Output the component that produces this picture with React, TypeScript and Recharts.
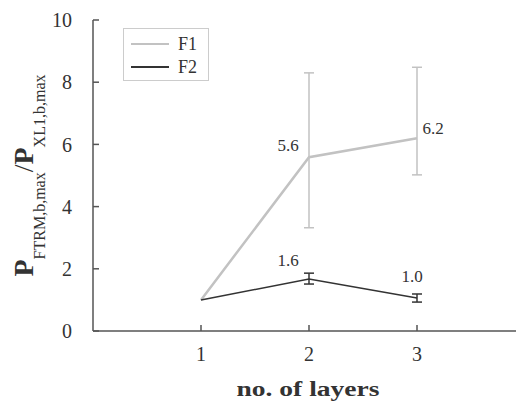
import React from 'react';
import { LineChart, Line, XAxis, YAxis, ErrorBar, LabelList, Legend } from 'recharts';

// number of layers
const layers = [1, 2, 3];

// F1 series: mean, error below, error above, printed label
const f1Mean = [1, 5.59, 6.2];
const f1ErrLow = [null, 2.27, 1.18];
const f1ErrHigh = [null, 2.71, 2.28];
const f1Labels = ['', '5.6', '6.2'];

// F2 series
const f2Mean = [1, 1.67, 1.06];
const f2ErrLow = [null, 0.16, 0.13];
const f2ErrHigh = [null, 0.19, 0.13];
const f2Labels = ['', '1.6', '1.0'];

const yTicks = [0, 2, 4, 6, 8, 10];

const data = layers.map((x, i) => ({
    x,
    f1: f1Mean[i],
    f1Err: f1ErrLow[i] == null ? undefined : [f1ErrLow[i], f1ErrHigh[i]],
    f1Label: f1Labels[i],
    f2: f2Mean[i],
    f2Err: f2ErrLow[i] == null ? undefined : [f2ErrLow[i], f2ErrHigh[i]],
    f2Label: f2Labels[i],
}));

const FONT = 'Liberation Serif';
const AXIS = '#555';
const F1_COLOR = '#c2c2c2';
const F2_COLOR = '#333';

// label offsets (dx, dy) from the point, per index
const f1Offsets = [[0, 0], [-21, -12], [16, -10]];
const f2Offsets = [[0, 0], [-21, -19], [-5, -22]];

const makeLabel = (offsets: number[][]) => (props: any) => {
    const { x, y, value, index } = props;
    if (!value) return null;
    const [dx, dy] = offsets[index];
    return (
        <text x={x + dx} y={y + dy} textAnchor="middle" dominantBaseline="central"
            style={{ fontFamily: FONT }} fontSize={17} fill="#333">
            {value}
        </text>
    );
};

const YLabel = (props: any) => {
    const vb = props.viewBox;
    const cx = vb.x + 33;
    const cy = vb.y + vb.height / 2;
    return (
        <text x={cx} y={cy} transform={`rotate(-90, ${cx}, ${cy})`} textAnchor="middle"
            style={{ fontFamily: FONT }} fill="#333">
            <tspan fontSize={28} fontWeight="bold">P</tspan>
            <tspan fontSize={16} dy={12}>FTRM,b,max</tspan>
            <tspan fontSize={28} dy={-12}>/</tspan>
            <tspan fontSize={28} fontWeight="bold">P</tspan>
            <tspan fontSize={16} dy={12}>XL1,b,max</tspan>
        </text>
    );
};

const XLabel = (props: any) => {
    const vb = props.viewBox;
    return (
        <text x={vb.x + vb.width / 2 - 1} y={vb.y + 65} textAnchor="middle" style={{ fontFamily: FONT }}
            fontSize={20} fontWeight="bold" fill="#333" textLength={143} lengthAdjust="spacingAndGlyphs">
            no. of layers
        </text>
    );
};

const renderLegend = (props: any) => {
    const { payload } = props;
    return (
        <div style={{ border: '1px solid #ccc', width: 84, height: 51, boxSizing: 'content-box', background: '#fff' }}>
            {payload.map((entry: any, i: number) => (
                <div key={i} style={{ display: 'flex', alignItems: 'center', height: 20, marginTop: i === 0 ? 5 : 3 }}>
                    <div style={{ width: 38, height: 0, borderTop: `2.5px solid ${entry.color}`, marginLeft: 7 }} />
                    <span style={{ fontFamily: FONT, fontSize: 18, color: '#333', marginLeft: 9 }}>{entry.value}</span>
                </div>
            ))}
        </div>
    );
};

const tickStyle = { fontFamily: FONT, fontSize: 20, fill: '#333', style: { fontFamily: FONT } };

export default function App() {
    return (
        <div style={{ position: 'absolute', left: 0, top: 0, width: 516, height: 403, overflow: 'hidden', background: '#fff', fontFamily: FONT }}>
            <LineChart width={540} height={403} data={data} margin={{ top: 20, right: 15, left: 0, bottom: 0 }}>
                <XAxis dataKey="x" type="number" domain={[0, 4]} ticks={layers} allowDataOverflow
                    height={72} tickSize={-6} tickMargin={22}
                    axisLine={{ stroke: AXIS, strokeWidth: 1.5 }} tickLine={{ stroke: AXIS, strokeWidth: 1.5 }}
                    tick={tickStyle}
                    label={<XLabel />} />
                <YAxis type="number" domain={[0, 10]} ticks={yTicks} width={93}
                    tickSize={-6} tickMargin={27}
                    axisLine={{ stroke: AXIS, strokeWidth: 1.5 }} tickLine={{ stroke: AXIS, strokeWidth: 1.5 }}
                    tick={tickStyle}
                    label={<YLabel />} />
                <Legend layout="vertical" align="center" verticalAlign="middle" content={renderLegend}
                    wrapperStyle={{ left: 123, top: 28, width: 86, height: 53 }} />
                <Line dataKey="f1" name="F1" stroke={F1_COLOR} strokeWidth={2.5} dot={false} isAnimationActive={false}>
                    <ErrorBar dataKey="f1Err" width={5} stroke={F1_COLOR} strokeWidth={1.5} direction="y" isAnimationActive={false} />
                    <LabelList dataKey="f1Label" content={makeLabel(f1Offsets)} />
                </Line>
                <Line dataKey="f2" name="F2" stroke={F2_COLOR} strokeWidth={1.5} dot={false} isAnimationActive={false}>
                    <ErrorBar dataKey="f2Err" width={5} stroke={F2_COLOR} strokeWidth={1.5} direction="y" isAnimationActive={false} />
                    <LabelList dataKey="f2Label" content={makeLabel(f2Offsets)} />
                </Line>
            </LineChart>
        </div>
    );
}
